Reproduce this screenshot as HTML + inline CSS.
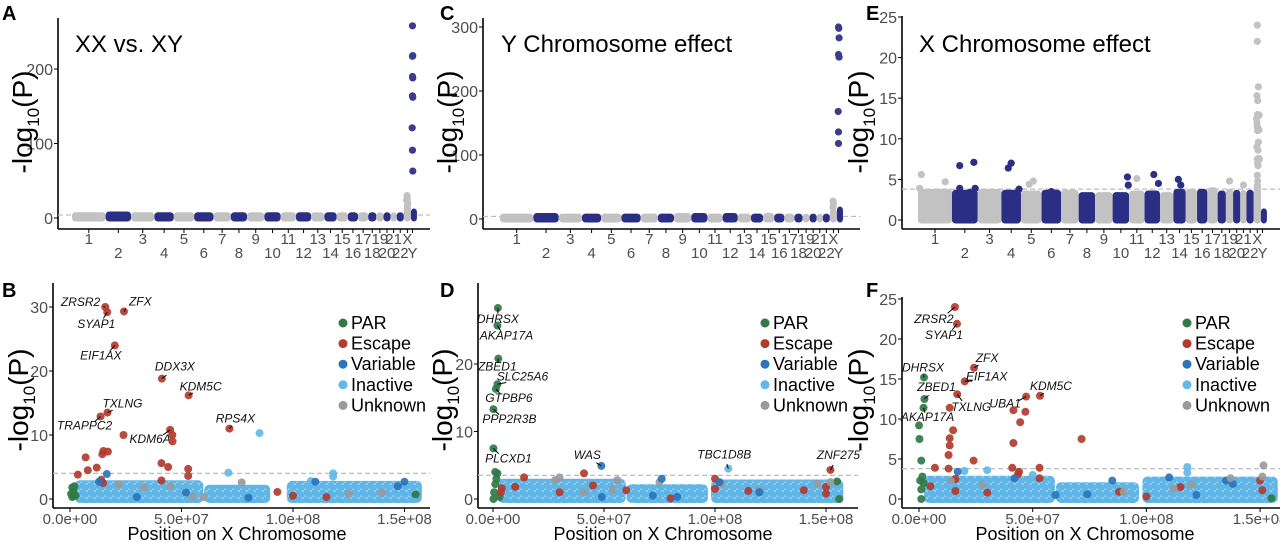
<!DOCTYPE html>
<html><head><meta charset="utf-8"><title>Manhattan plots</title>
<style>
html,body{margin:0;padding:0;background:#fff;}
svg{display:block;font-family:"Liberation Sans",Arial,sans-serif;}
</style></head>
<body>
<svg id="fig" width="1280" height="541" viewBox="0 0 1280 541" xmlns="http://www.w3.org/2000/svg">
<defs>
<pattern id="dots" width="8" height="7" patternUnits="userSpaceOnUse">
<rect width="8" height="7" fill="#8ccbee"/>
<circle cx="2" cy="2" r="3.6" fill="#5fb5e6"/>
<circle cx="6" cy="5.5" r="3.6" fill="#5fb5e6"/>
</pattern>
</defs>
</svg>
<script>
// ---------- DATA ----------
const chromNames = ["1","2","3","4","5","6","7","8","9","10","11","12","13","14","15","16","17","18","19","20","21","22","X","Y"];
const chromUnits = [33,25,23,19,20,19,17,16,17,16,15,15,13,12,11,10,10,8,7,7,6,7,7,3];
const bandA = [3,4,3,3,3,3,3,3,3,3,3,3,3,3,3,3,3,3,3,3,3,3,12,8];
const outA = [[23,0.45,30],[23,0.5,27],[23,0.4,24],[23,0.55,20],[23,0.5,16],[24,0.5,258],[24,0.6,218],[24,0.5,217],[24,0.5,190],[24,0.6,188],[24,0.5,164],[24,0.6,162],[24,0.4,121],[24,0.5,91],[24,0.6,63]];
const bandC = [3,4,3,3,3,3,3,3,4,4,3,4,3,3,4,3,3,3,3,3,3,3,10,14];
const outC = [[23,0.45,28],[23,0.5,24],[23,0.45,18],[24,0.5,300],[24,0.6,298],[24,0.7,283],[24,0.5,257],[24,0.7,253],[24,0.4,168],[24,0.5,136],[24,0.5,118]];
const bandE = [3.4,3.3,3.4,3.3,3.2,3.3,3.3,3,3,3,3.2,3.2,3,3.4,3.4,3.4,3.6,3.2,3.4,3.3,3.3,3.3,4.2,1];
const outE = [[1,0.1,5.6],[1,0.05,3.9],[1,0.8,4.7],[2,0.3,6.7],[2,0.85,7.1],[2,0.3,3.9],[2,0.9,3.9],[2,0.7,3.4],[4,0.35,6.4],[4,0.5,7],[4,0.9,3.8],[5,0.6,4.8],[5,0.4,4.4],[6,0.5,3.5],[6,0.8,3.2],[10,0.3,3],[10,0.9,5.3],[10,0.95,4.3],[11,0.5,5.1],[12,0.6,5.6],[12,0.9,4.5],[14,0.4,5],[14,0.6,4.3],[19,0.5,4.8],[21,0.5,4.3],
 [23,0.5,24],[23,0.5,22],[23,0.65,16.4],[23,0.45,15.3],[23,0.55,14.7],[23,0.55,13],[23,0.75,12.9],[23,0.4,12.5],[23,0.45,12],[23,0.5,11.5],[23,0.55,11],[23,0.75,11.1],[23,0.65,9.6],[23,0.45,9],[23,0.6,8.6],[23,0.7,7.6],[23,0.5,7.5],[23,0.8,7.5],[23,0.55,7],[23,0.6,6.7],[23,0.5,5.5],[23,0.55,4.8]];

const catNames = ["PAR","Escape","Variable","Inactive","Unknown"];
const catColors = ["#2f7a45","#b23b2e","#2b74bb","#62b8e8","#9a9a9a"];

const cloudB = [[4,58,2.3],[62,88,1.6],[99,156,2.2]];
const cloudD = [[4,58,2.4],[62,95,1.6],[100,156,2.3]];
const cloudF = [[4,58,2.4],[62,95,1.6],[100,156,2.3]];
const ptsB = [[15.8,30,1],[16.7,29.2,1],[24.2,29.3,1],[20.1,24,1],[41.2,18.8,1],[53.2,16.2,1],[16.8,13.5,1],[13.7,12.9,1],[44.9,10.8,1],[71.5,11,1],
 [24,10,1],[45.9,10,1],[46,9,1],[15,7.5,1],[17,7.4,1],[7,6.5,1],[14.5,7,1],[41,5.6,1],[44,5,1],[12,4.9,1],[8,4.5,1],[53,4.7,1],[53,3.6,1],[3.5,3.8,1],[14,3,1],[41,2.9,1],[14.8,2.5,1],[93,1.1,1],[100,0.5,1],[115,0.3,1],
 [85,10.3,3],[71,4.1,3],[118,4,3],[118,3.5,3],[108,2.8,3],
 [16.5,3.9,2],[13,2.7,2],[110,2.7,2],[150,2.7,2],[147,2,2],[52,1,2],[30,0.3,2],[80,0.2,2],
 [77,2.6,4],[22,2.3,4],[33,1.8,4],[45,2,4],[55,0.4,4],[125,0.8,4],[140,1,4],[60,0.3,4],
 [0.5,0.8,0],[1,1.8,0],[1.5,1.2,0],[2,2,0],[2.5,0.5,0],[1,0.3,0],[155,0.7,0]];
const labB = ["ZRSR2","SYAP1","ZFX","EIF1AX","DDX3X","KDM5C","TXLNG","TRAPPC2","KDM6A","RPS4X"];
const ptsD = [[2.2,28.3,0],[2.0,25.7,0],[2.4,20.8,0],[2.0,17,0],[1.3,16.3,0],[0.2,13.3,0],[0.2,7.5,0],[48.8,4.9,2],[106,4.5,3],[152,4.3,1],
 [1,4,0],[2,3.8,0],[1.5,3,0],[1,2.2,0],[0.5,1,0],[0.2,0,0],[3,0.3,0],[155,2.6,0],[156,0,0],
 [41,3.8,1],[14,3.2,1],[100,3,1],[100,1.5,1],[4,1.6,1],[3.5,1,1],[10,1.8,1],[30,1,1],[45,2,1],[115,1.2,1],[140,1.3,1],[150,0.8,1],[150,1.8,1],[60,1.3,1],[80,0.1,1],
 [28,2.8,4],[30,3.2,4],[56,2.8,4],[75,2.5,4],[103,2.3,4],[146,2.3,4],[152,2.5,4],[41,1,4],[54,1.4,4],[120,1.3,4],
 [76,3,2],[102,2.5,2],[120,1,2],[83,0.3,2],[49,0.3,2],[72,0.5,2]];
const labD = ["DHRSX","AKAP17A","ZBED1","SLC25A6","GTPBP6","PPP2R3B","PLCXD1","WAS","TBC1D8B","ZNF275"];
const ptsF = [[15.8,24,1],[16.7,21.9,1],[24.2,16.4,1],[20.1,14.7,1],[2.2,15.2,0],[2.4,12.5,0],[16.8,13.1,1],[47.1,12.8,1],[53.2,12.9,1],[2,11.4,0],
 [13.5,11.4,1],[41.5,11.1,1],[46.8,10.9,1],[44.5,9.6,1],[41.5,7,1],[71.5,7.5,1],[15,8.6,1],[13.5,7.6,1],[13.5,6.7,1],[13,5.5,1],[24,4.8,1],[7,3.9,1],[13,3.8,1],[41,3.9,1],[53,3.9,1],[44,3.4,1],[43.5,3.1,1],[53,2.6,1],[16,2.5,1],[5,1.6,1],[16,1,1],[88,0.9,1],[30,0.8,1],[115,1.5,1],[150,2.3,1],[151,1.1,1],[100,0.3,1],
 [0,9.2,0],[0.2,7.5,0],[1,4.8,0],[1.5,2.8,0],[0.5,2.3,0],[1,1.2,0],[2,2,0],[1,0,0],[155,0.1,0],
 [118,4,3],[118,3.3,3],[30,3.6,3],[50,3,3],[20,3.5,3],
 [17,3.4,2],[42,2.6,2],[85,2.3,2],[110,2.7,2],[135,2.3,2],[138,1.9,2],[122,0.5,2],[74,0.6,2],[60,0.5,2],
 [151.5,4.2,4],[151,2.8,4],[137,2.6,4],[14,2.3,4],[28,1.8,4],[90,0.9,4],[112,1.3,4],[120,1.8,4]];
const labF = ["ZRSR2","SYAP1","ZFX","EIF1AX","DHRSX","ZBED1","TXLNG","UBA1","KDM5C","AKAP17A"];
const xTickVals = [0,50,100,150];
const xTickLabels = ["0.0e+00","5.0e+07","1.0e+08","1.5e+08"];

const offB = [[-5,-1,"end"],[-11,14,"middle"],[5,-6,"start"],[-14,12,"middle"],[13,-8,"middle"],[12,-5,"middle"],[15,-5,"middle"],[-16,11,"middle"],[-20,11,"middle"],[6,-6,"middle"]];
const offD = [[0,13,"middle"],[9,12,"middle"],[-1,10,"middle"],[25,-4,"middle"],[13,11,"middle"],[16,12,"middle"],[15,12,"middle"],[-14,-7,"middle"],[-4,-10,"middle"],[8,-11,"middle"]];
const offF = [[-21,14,"middle"],[-13,13,"middle"],[13,-6,"middle"],[22,-1,"middle"],[-1,-6,"middle"],[12,-8,"middle"],[14,15,"middle"],[-21,9,"middle"],[11,-6,"middle"],[4,11,"middle"]];

// ---------- DRAWING ----------
const NS="http://www.w3.org/2000/svg";
const svg=document.getElementById("fig");
function mk(tag,attrs,parent){const e=document.createElementNS(NS,tag);for(const k in attrs)e.setAttribute(k,attrs[k]);(parent||svg).appendChild(e);return e;}
function txt(s,attrs,parent){const e=mk("text",attrs,parent);e.textContent=s;return e;}
const NAVY="#2b2e85", GRAY="#c2c2c2", TICK="#4d4d4d";

function panelLetter(l,x,y){const t=txt(l,{x:x,y:y,"font-size":20,"font-weight":"bold",fill:"#000"});
 
 }

function yTitle(g,cx,cy){
 const t=mk("text",{transform:"translate("+cx+","+cy+") rotate(-90)","text-anchor":"middle","font-size":28,fill:"#000"},g);
 
 
 const a=mk("tspan",{},t);a.textContent="-log";
 const b=mk("tspan",{"font-size":17,dy:7},t);b.textContent="10";
 const c=mk("tspan",{dy:-7},t);c.textContent="(P)";
}

function axes(g,x0,yTop,yBot,xEnd,yScale,ticks){
 const ya=mk("line",{x1:x0,y1:yTop,x2:x0,y2:yBot,stroke:"#000","stroke-width":1.6},g);
 
 
 const xa=mk("line",{x1:x0,y1:yBot,x2:xEnd,y2:yBot,stroke:"#000","stroke-width":1.6},g);
 
 
 ticks.forEach(v=>{const y=yScale(v);
  const tk=mk("line",{x1:x0-4,y1:y,x2:x0,y2:y,stroke:"#000","stroke-width":1},g);
  
  
  const tl=txt(String(v),{x:x0-5,y:y+6,"text-anchor":"end","font-size":16,fill:TICK},g);
  
  });
}

function manhattan(cfg){
 const g=mk("g",{});
 
 
 const total=chromUnits.reduce((a,b)=>a+b,0);
 const xs=u=>cfg.xStart+u*(cfg.xEnd-cfg.xStart)/total;
 const ys=v=>cfg.y0-v*cfg.k;
 axes(g,cfg.axisX,cfg.top,229,cfg.axisEnd,ys,cfg.ticks);
 const th=mk("line",{x1:cfg.axisX,y1:ys(cfg.thr),x2:cfg.axisEnd,y2:ys(cfg.thr),stroke:"#bdbdbd","stroke-width":1.2,"stroke-dasharray":"5,3"},g);
 
 
 let cum=0;
 chromUnits.forEach((w,i)=>{
  const col=(i%2===0)?GRAY:NAVY;
  const xa=xs(cum), xb=xs(cum+w);
  const yTopB=ys(cfg.band[i])-3.5, yBotB=ys(0)+3.5;
  const r=mk("rect",{x:xa,y:yTopB,width:Math.max(xb-xa,6),height:yBotB-yTopB,rx:3.5,fill:col},g);
  
  
  const mid=(xa+xb)/2;
  const tk=mk("line",{x1:mid,y1:229,x2:mid,y2:233,stroke:"#000","stroke-width":1},g);
  
  
  const row=(i%2===0)?0:1;
  const tl=txt(chromNames[i],{x:mid,y:row?258:244,"text-anchor":"middle","font-size":15,fill:TICK},g);
  
  
  cum+=w;
 });
 const starts=[];let c2=0;chromUnits.forEach(w=>{starts.push(c2);c2+=w;});
 cfg.out.forEach(o=>{
  const i=o[0]-1;const u=starts[i]+chromUnits[i]*o[1];
  const col=(i%2===0)?GRAY:(cfg.navyPts||NAVY);
  const c=mk("circle",{cx:xs(u),cy:ys(o[2]),r:3.6,fill:col},g);
  
  
 });
 const tt=txt(cfg.title,{x:cfg.titleX,y:52,"font-size":24,fill:"#000"},g);
 
 
 yTitle(g,cfg.yTitleX,122);
}

function xchrom(cfg){
 const g=mk("g",{});
 
 
 const xs=mb=>cfg.x0+mb*cfg.kx;
 const ys=v=>499-v*cfg.ky;
 axes(g,cfg.axisX,cfg.top,508,cfg.axisEnd,ys,cfg.ticks);
 xTickVals.forEach((v,i)=>{
  const x=xs(v);
  const tk=mk("line",{x1:x,y1:508,x2:x,y2:512,stroke:"#000","stroke-width":1},g);
  
  
  const tl=txt(xTickLabels[i],{x:x,y:524,"text-anchor":"middle","font-size":15,fill:TICK},g);
  
  
 });
 const xt=txt("Position on X Chromosome",{x:cfg.titleCx,y:540,"text-anchor":"middle","font-size":18,fill:"#000"},g);
 
 
 yTitle(g,cfg.yTitleX,400);
 const th=mk("line",{x1:cfg.axisX,y1:ys(cfg.thr),x2:cfg.axisEnd,y2:ys(cfg.thr),stroke:"#bdbdbd","stroke-width":1.2,"stroke-dasharray":"5,3"},g);
 
 
 cfg.cloud.forEach(s=>{
  const yT=ys(s[2])-4,yB=ys(0)+4;
  const r=mk("rect",{x:xs(s[0])-4,y:yT,width:xs(s[1])-xs(s[0])+8,height:yB-yT,rx:5,fill:"url(#dots)"},g);
  
  
 });
 cfg.pts.forEach((p,i)=>{
  const c=mk("circle",{cx:xs(p[0]),cy:ys(p[1]),r:4,fill:catColors[p[2]],"fill-opacity":0.92},g);
  
  
  if(i<cfg.labels.length){
   const o=cfg.off[i];const px=xs(p[0]),py=ys(p[1]);
   const ln=mk("line",{x1:px,y1:py,x2:px+o[0]*0.35,y2:py+o[1]*0.45,stroke:"#000","stroke-width":1},g);
   
   
   const t=txt(cfg.labels[i],{x:px+o[0],y:py+o[1]+(o[1]>0?2:0),"text-anchor":o[2],"font-size":12,"font-style":"italic",fill:"#111"},g);
   
   
  }
 });
 catNames.forEach((n,i)=>{
  const y=cfg.legY+i*20.6;
  const d=mk("circle",{cx:cfg.legX,cy:y,r:4.5,fill:catColors[i]},g);
  
  
  const t=txt(n,{x:cfg.legX+8,y:y+6,"font-size":18,fill:"#000"},g);
  
  
 });
}

manhattan({name:"panel-a-xx-vs-xy",xStart:72,xEnd:414,axisX:58,axisEnd:430,top:18,y0:218,k:0.745,ticks:[0,100,200],thr:4,band:bandA,out:outA,title:"XX vs. XY",titleX:75,yTitleX:32,navyPts:"#3a3d8f"});
manhattan({name:"panel-c-y-effect",xStart:500,xEnd:840,axisX:483,axisEnd:860,top:18,y0:219,k:0.64,ticks:[0,100,200,300],thr:4,band:bandC,out:outC,title:"Y Chromosome effect",titleX:501,yTitleX:457,navyPts:"#3a3d8f"});
manhattan({name:"panel-e-x-effect",xStart:918,xEnd:1264,axisX:902,axisEnd:1280,top:16,y0:220,k:8.12,ticks:[0,5,10,15,20,25],thr:3.8,band:bandE,out:outE,title:"X Chromosome effect",titleX:919,yTitleX:868});

xchrom({name:"panel-b-xx-vs-xy-x",x0:70,kx:2.23,ky:6.4,axisX:53,axisEnd:430,top:283,ticks:[0,10,20,30],thr:4,cloud:cloudB,pts:ptsB,labels:labB,off:offB,legX:343,legY:323,titleCx:237,yTitleX:28});
xchrom({name:"panel-d-y-effect-x",x0:493,kx:2.22,ky:6.75,axisX:478,axisEnd:858,top:283,ticks:[0,10,20],thr:3.5,cloud:cloudD,pts:ptsD,labels:labD,off:offD,legX:765,legY:323,titleCx:663,yTitleX:452});
xchrom({name:"panel-f-x-effect-x",x0:919,kx:2.274,ky:8,axisX:902,axisEnd:1280,top:297,ticks:[0,5,10,15,20,25],thr:3.8,cloud:cloudF,pts:ptsF,labels:labF,off:offF,legX:1187,legY:323,titleCx:1085,yTitleX:868});

panelLetter("A",2,20);panelLetter("B",2,297);panelLetter("C",440,20);
panelLetter("D",440,297);panelLetter("E",866,20);panelLetter("F",866,297);
</script>
</body></html>
